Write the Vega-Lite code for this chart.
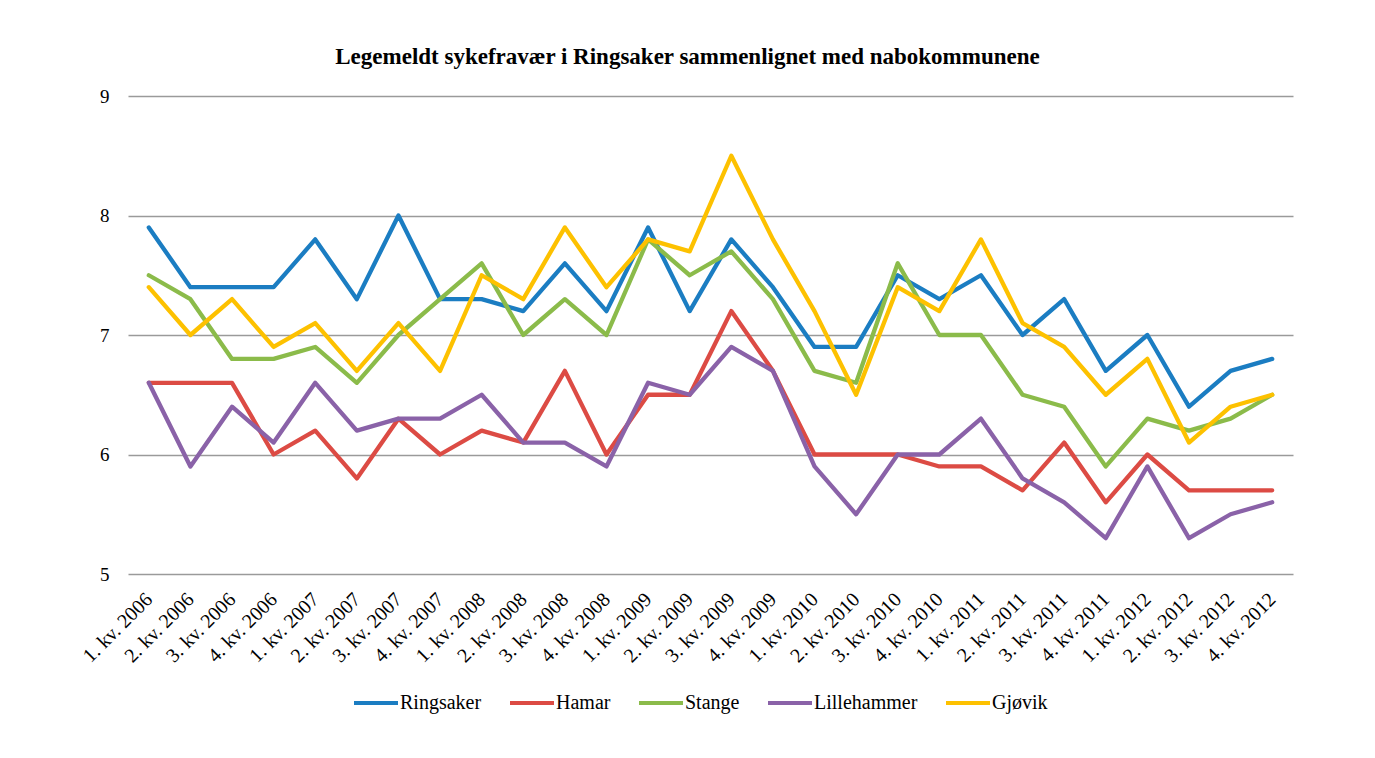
{
  "$schema": "https://vega.github.io/schema/vega-lite/v6.json",
  "autosize": {"type": "none"},
  "width": 1165,
  "height": 478,
  "padding": {"left": 128, "top": 96, "right": 82, "bottom": 184},
  "background": "white",
  "title": {
    "text": "Legemeldt sykefravær i Ringsaker sammenlignet med nabokommunene",
    "font": "Liberation Serif",
    "fontSize": 23,
    "fontWeight": "bold",
    "color": "black",
    "anchor": "middle",
    "dx": -23,
    "offset": 18
  },
  "data": {
    "values": [
      {"q":"1. kv. 2006","k":"Ringsaker","v":7.9},{"q":"2. kv. 2006","k":"Ringsaker","v":7.4},{"q":"3. kv. 2006","k":"Ringsaker","v":7.4},{"q":"4. kv. 2006","k":"Ringsaker","v":7.4},
      {"q":"1. kv. 2007","k":"Ringsaker","v":7.8},{"q":"2. kv. 2007","k":"Ringsaker","v":7.3},{"q":"3. kv. 2007","k":"Ringsaker","v":8.0},{"q":"4. kv. 2007","k":"Ringsaker","v":7.3},
      {"q":"1. kv. 2008","k":"Ringsaker","v":7.3},{"q":"2. kv. 2008","k":"Ringsaker","v":7.2},{"q":"3. kv. 2008","k":"Ringsaker","v":7.6},{"q":"4. kv. 2008","k":"Ringsaker","v":7.2},
      {"q":"1. kv. 2009","k":"Ringsaker","v":7.9},{"q":"2. kv. 2009","k":"Ringsaker","v":7.2},{"q":"3. kv. 2009","k":"Ringsaker","v":7.8},{"q":"4. kv. 2009","k":"Ringsaker","v":7.4},
      {"q":"1. kv. 2010","k":"Ringsaker","v":6.9},{"q":"2. kv. 2010","k":"Ringsaker","v":6.9},{"q":"3. kv. 2010","k":"Ringsaker","v":7.5},{"q":"4. kv. 2010","k":"Ringsaker","v":7.3},
      {"q":"1. kv. 2011","k":"Ringsaker","v":7.5},{"q":"2. kv. 2011","k":"Ringsaker","v":7.0},{"q":"3. kv. 2011","k":"Ringsaker","v":7.3},{"q":"4. kv. 2011","k":"Ringsaker","v":6.7},
      {"q":"1. kv. 2012","k":"Ringsaker","v":7.0},{"q":"2. kv. 2012","k":"Ringsaker","v":6.4},{"q":"3. kv. 2012","k":"Ringsaker","v":6.7},{"q":"4. kv. 2012","k":"Ringsaker","v":6.8},

      {"q":"1. kv. 2006","k":"Hamar","v":6.6},{"q":"2. kv. 2006","k":"Hamar","v":6.6},{"q":"3. kv. 2006","k":"Hamar","v":6.6},{"q":"4. kv. 2006","k":"Hamar","v":6.0},
      {"q":"1. kv. 2007","k":"Hamar","v":6.2},{"q":"2. kv. 2007","k":"Hamar","v":5.8},{"q":"3. kv. 2007","k":"Hamar","v":6.3},{"q":"4. kv. 2007","k":"Hamar","v":6.0},
      {"q":"1. kv. 2008","k":"Hamar","v":6.2},{"q":"2. kv. 2008","k":"Hamar","v":6.1},{"q":"3. kv. 2008","k":"Hamar","v":6.7},{"q":"4. kv. 2008","k":"Hamar","v":6.0},
      {"q":"1. kv. 2009","k":"Hamar","v":6.5},{"q":"2. kv. 2009","k":"Hamar","v":6.5},{"q":"3. kv. 2009","k":"Hamar","v":7.2},{"q":"4. kv. 2009","k":"Hamar","v":6.7},
      {"q":"1. kv. 2010","k":"Hamar","v":6.0},{"q":"2. kv. 2010","k":"Hamar","v":6.0},{"q":"3. kv. 2010","k":"Hamar","v":6.0},{"q":"4. kv. 2010","k":"Hamar","v":5.9},
      {"q":"1. kv. 2011","k":"Hamar","v":5.9},{"q":"2. kv. 2011","k":"Hamar","v":5.7},{"q":"3. kv. 2011","k":"Hamar","v":6.1},{"q":"4. kv. 2011","k":"Hamar","v":5.6},
      {"q":"1. kv. 2012","k":"Hamar","v":6.0},{"q":"2. kv. 2012","k":"Hamar","v":5.7},{"q":"3. kv. 2012","k":"Hamar","v":5.7},{"q":"4. kv. 2012","k":"Hamar","v":5.7},

      {"q":"1. kv. 2006","k":"Stange","v":7.5},{"q":"2. kv. 2006","k":"Stange","v":7.3},{"q":"3. kv. 2006","k":"Stange","v":6.8},{"q":"4. kv. 2006","k":"Stange","v":6.8},
      {"q":"1. kv. 2007","k":"Stange","v":6.9},{"q":"2. kv. 2007","k":"Stange","v":6.6},{"q":"3. kv. 2007","k":"Stange","v":7.0},{"q":"4. kv. 2007","k":"Stange","v":7.3},
      {"q":"1. kv. 2008","k":"Stange","v":7.6},{"q":"2. kv. 2008","k":"Stange","v":7.0},{"q":"3. kv. 2008","k":"Stange","v":7.3},{"q":"4. kv. 2008","k":"Stange","v":7.0},
      {"q":"1. kv. 2009","k":"Stange","v":7.8},{"q":"2. kv. 2009","k":"Stange","v":7.5},{"q":"3. kv. 2009","k":"Stange","v":7.7},{"q":"4. kv. 2009","k":"Stange","v":7.3},
      {"q":"1. kv. 2010","k":"Stange","v":6.7},{"q":"2. kv. 2010","k":"Stange","v":6.6},{"q":"3. kv. 2010","k":"Stange","v":7.6},{"q":"4. kv. 2010","k":"Stange","v":7.0},
      {"q":"1. kv. 2011","k":"Stange","v":7.0},{"q":"2. kv. 2011","k":"Stange","v":6.5},{"q":"3. kv. 2011","k":"Stange","v":6.4},{"q":"4. kv. 2011","k":"Stange","v":5.9},
      {"q":"1. kv. 2012","k":"Stange","v":6.3},{"q":"2. kv. 2012","k":"Stange","v":6.2},{"q":"3. kv. 2012","k":"Stange","v":6.3},{"q":"4. kv. 2012","k":"Stange","v":6.5},

      {"q":"1. kv. 2006","k":"Lillehammer","v":6.6},{"q":"2. kv. 2006","k":"Lillehammer","v":5.9},{"q":"3. kv. 2006","k":"Lillehammer","v":6.4},{"q":"4. kv. 2006","k":"Lillehammer","v":6.1},
      {"q":"1. kv. 2007","k":"Lillehammer","v":6.6},{"q":"2. kv. 2007","k":"Lillehammer","v":6.2},{"q":"3. kv. 2007","k":"Lillehammer","v":6.3},{"q":"4. kv. 2007","k":"Lillehammer","v":6.3},
      {"q":"1. kv. 2008","k":"Lillehammer","v":6.5},{"q":"2. kv. 2008","k":"Lillehammer","v":6.1},{"q":"3. kv. 2008","k":"Lillehammer","v":6.1},{"q":"4. kv. 2008","k":"Lillehammer","v":5.9},
      {"q":"1. kv. 2009","k":"Lillehammer","v":6.6},{"q":"2. kv. 2009","k":"Lillehammer","v":6.5},{"q":"3. kv. 2009","k":"Lillehammer","v":6.9},{"q":"4. kv. 2009","k":"Lillehammer","v":6.7},
      {"q":"1. kv. 2010","k":"Lillehammer","v":5.9},{"q":"2. kv. 2010","k":"Lillehammer","v":5.5},{"q":"3. kv. 2010","k":"Lillehammer","v":6.0},{"q":"4. kv. 2010","k":"Lillehammer","v":6.0},
      {"q":"1. kv. 2011","k":"Lillehammer","v":6.3},{"q":"2. kv. 2011","k":"Lillehammer","v":5.8},{"q":"3. kv. 2011","k":"Lillehammer","v":5.6},{"q":"4. kv. 2011","k":"Lillehammer","v":5.3},
      {"q":"1. kv. 2012","k":"Lillehammer","v":5.9},{"q":"2. kv. 2012","k":"Lillehammer","v":5.3},{"q":"3. kv. 2012","k":"Lillehammer","v":5.5},{"q":"4. kv. 2012","k":"Lillehammer","v":5.6},

      {"q":"1. kv. 2006","k":"Gjøvik","v":7.4},{"q":"2. kv. 2006","k":"Gjøvik","v":7.0},{"q":"3. kv. 2006","k":"Gjøvik","v":7.3},{"q":"4. kv. 2006","k":"Gjøvik","v":6.9},
      {"q":"1. kv. 2007","k":"Gjøvik","v":7.1},{"q":"2. kv. 2007","k":"Gjøvik","v":6.7},{"q":"3. kv. 2007","k":"Gjøvik","v":7.1},{"q":"4. kv. 2007","k":"Gjøvik","v":6.7},
      {"q":"1. kv. 2008","k":"Gjøvik","v":7.5},{"q":"2. kv. 2008","k":"Gjøvik","v":7.3},{"q":"3. kv. 2008","k":"Gjøvik","v":7.9},{"q":"4. kv. 2008","k":"Gjøvik","v":7.4},
      {"q":"1. kv. 2009","k":"Gjøvik","v":7.8},{"q":"2. kv. 2009","k":"Gjøvik","v":7.7},{"q":"3. kv. 2009","k":"Gjøvik","v":8.5},{"q":"4. kv. 2009","k":"Gjøvik","v":7.8},
      {"q":"1. kv. 2010","k":"Gjøvik","v":7.2},{"q":"2. kv. 2010","k":"Gjøvik","v":6.5},{"q":"3. kv. 2010","k":"Gjøvik","v":7.4},{"q":"4. kv. 2010","k":"Gjøvik","v":7.2},
      {"q":"1. kv. 2011","k":"Gjøvik","v":7.8},{"q":"2. kv. 2011","k":"Gjøvik","v":7.1},{"q":"3. kv. 2011","k":"Gjøvik","v":6.9},{"q":"4. kv. 2011","k":"Gjøvik","v":6.5},
      {"q":"1. kv. 2012","k":"Gjøvik","v":6.8},{"q":"2. kv. 2012","k":"Gjøvik","v":6.1},{"q":"3. kv. 2012","k":"Gjøvik","v":6.4},{"q":"4. kv. 2012","k":"Gjøvik","v":6.5}
    ]
  },
  "mark": {"type": "line", "strokeWidth": 4.3, "strokeCap": "round", "strokeJoin": "round"},
  "encoding": {
    "x": {
      "field": "q",
      "type": "nominal",
      "sort": null,
      "scale": {"type": "point", "padding": 0.5},
      "axis": {
        "title": null,
        "labelAngle": -45,
        "labelAlign": "right",
        "labelBaseline": "middle",
        "labelFont": "Liberation Serif",
        "labelFontSize": 20,
        "labelColor": "black",
        "labelPadding": 22,
        "ticks": false,
        "domain": false,
        "grid": false
      }
    },
    "y": {
      "field": "v",
      "type": "quantitative",
      "scale": {"domain": [5, 9], "nice": false, "zero": false},
      "axis": {
        "title": null,
        "values": [5, 6, 7, 8, 9],
        "labelFont": "Liberation Serif",
        "labelFontSize": 19,
        "labelColor": "black",
        "labelPadding": 19,
        "ticks": false,
        "domain": false,
        "grid": true,
        "gridColor": "#9a9a9a",
        "gridWidth": 1.5
      }
    },
    "color": {
      "field": "k",
      "type": "nominal",
      "scale": {
        "domain": ["Ringsaker", "Hamar", "Stange", "Lillehammer", "Gjøvik"],
        "range": ["#1B7DC2", "#DC4B44", "#8BBB4A", "#8A62A8", "#FDC100"]
      },
      "legend": {
        "title": null,
        "orient": "none",
        "direction": "horizontal",
        "legendX": 224,
        "legendY": 583,
        "symbolType": "stroke",
        "symbolSize": 1936,
        "symbolStrokeWidth": 4,
        "labelFont": "Liberation Serif",
        "labelFontSize": 20,
        "labelColor": "black",
        "labelOffset": 0,
        "columnPadding": 20
      }
    }
  },
  "config": {
    "view": {"stroke": null}
  }
}
